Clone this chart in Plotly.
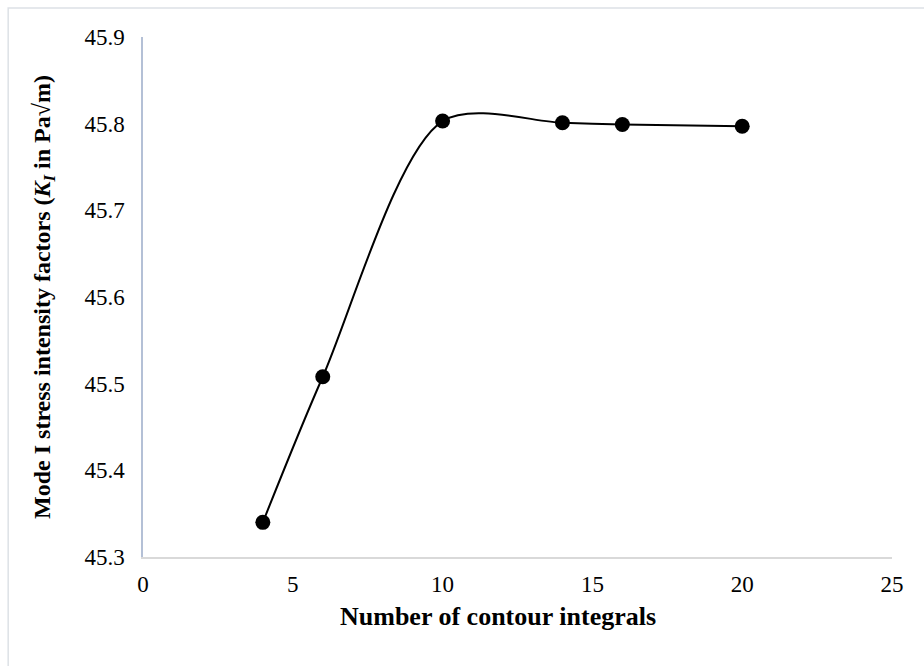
import plotly.graph_objects as go

# Number of contour integrals vs. mode I stress intensity factor
contours = [4, 6, 10, 14, 16, 20]
k_i = [45.340, 45.508, 45.803, 45.801, 45.799, 45.797]

x_ticks = [0, 5, 10, 15, 20, 25]
y_ticks = [45.3, 45.4, 45.5, 45.6, 45.7, 45.8, 45.9]

FONT = "Liberation Serif"

fig = go.Figure()
fig.add_trace(go.Scatter(
    x=contours,
    y=k_i,
    mode="lines+markers",
    line=dict(color="black", width=2, shape="spline", smoothing=0.85),
    marker=dict(color="black", size=15),
    showlegend=False,
))

fig.update_layout(
    width=924,
    height=666,
    margin=dict(l=143, r=32, t=37, b=109),
    paper_bgcolor="white",
    plot_bgcolor="white",
    font=dict(family=FONT, color="black", size=23),
    xaxis=dict(
        range=[0, 25],
        tickvals=x_ticks,
        ticktext=[str(v) for v in x_ticks],
        showgrid=False,
        zeroline=False,
        showline=True,
        linecolor="#d9d9d9",
        linewidth=1.5,
        ticks="",
        ticklabelstandoff=6,
        tickfont=dict(family=FONT, size=23, color="black"),
    ),
    yaxis=dict(
        range=[45.3, 45.9],
        tickvals=y_ticks,
        ticktext=[f"{v:.1f}" for v in y_ticks],
        showgrid=False,
        zeroline=False,
        showline=True,
        linecolor="#b4c0d6",
        linewidth=1.5,
        ticks="",
        ticklabelstandoff=12,
        tickfont=dict(family=FONT, size=23, color="black"),
        title=dict(
            text="<b>Mode I stress intensity factors (<i>K<sub>I</sub></i> in Pa√m)</b>",
            font=dict(family=FONT, size=24, color="black"),
            standoff=27,
        ),
    ),
    annotations=[
        dict(text="<b>Number of contour integrals</b>",
             xref="paper", yref="paper", x=0.474, y=-0.1135,
             xanchor="center", yanchor="middle", showarrow=False,
             font=dict(family=FONT, size=26, color="black")),
    ],
    shapes=[
        dict(type="rect", xref="paper", yref="paper",
             x0=-0.180, x1=1.5, y0=-0.5, y1=1.0558,
             line=dict(color="#dde1e6", width=1.5), fillcolor="rgba(0,0,0,0)",
             layer="below"),
    ],
)

fig.write_html("out.html")
